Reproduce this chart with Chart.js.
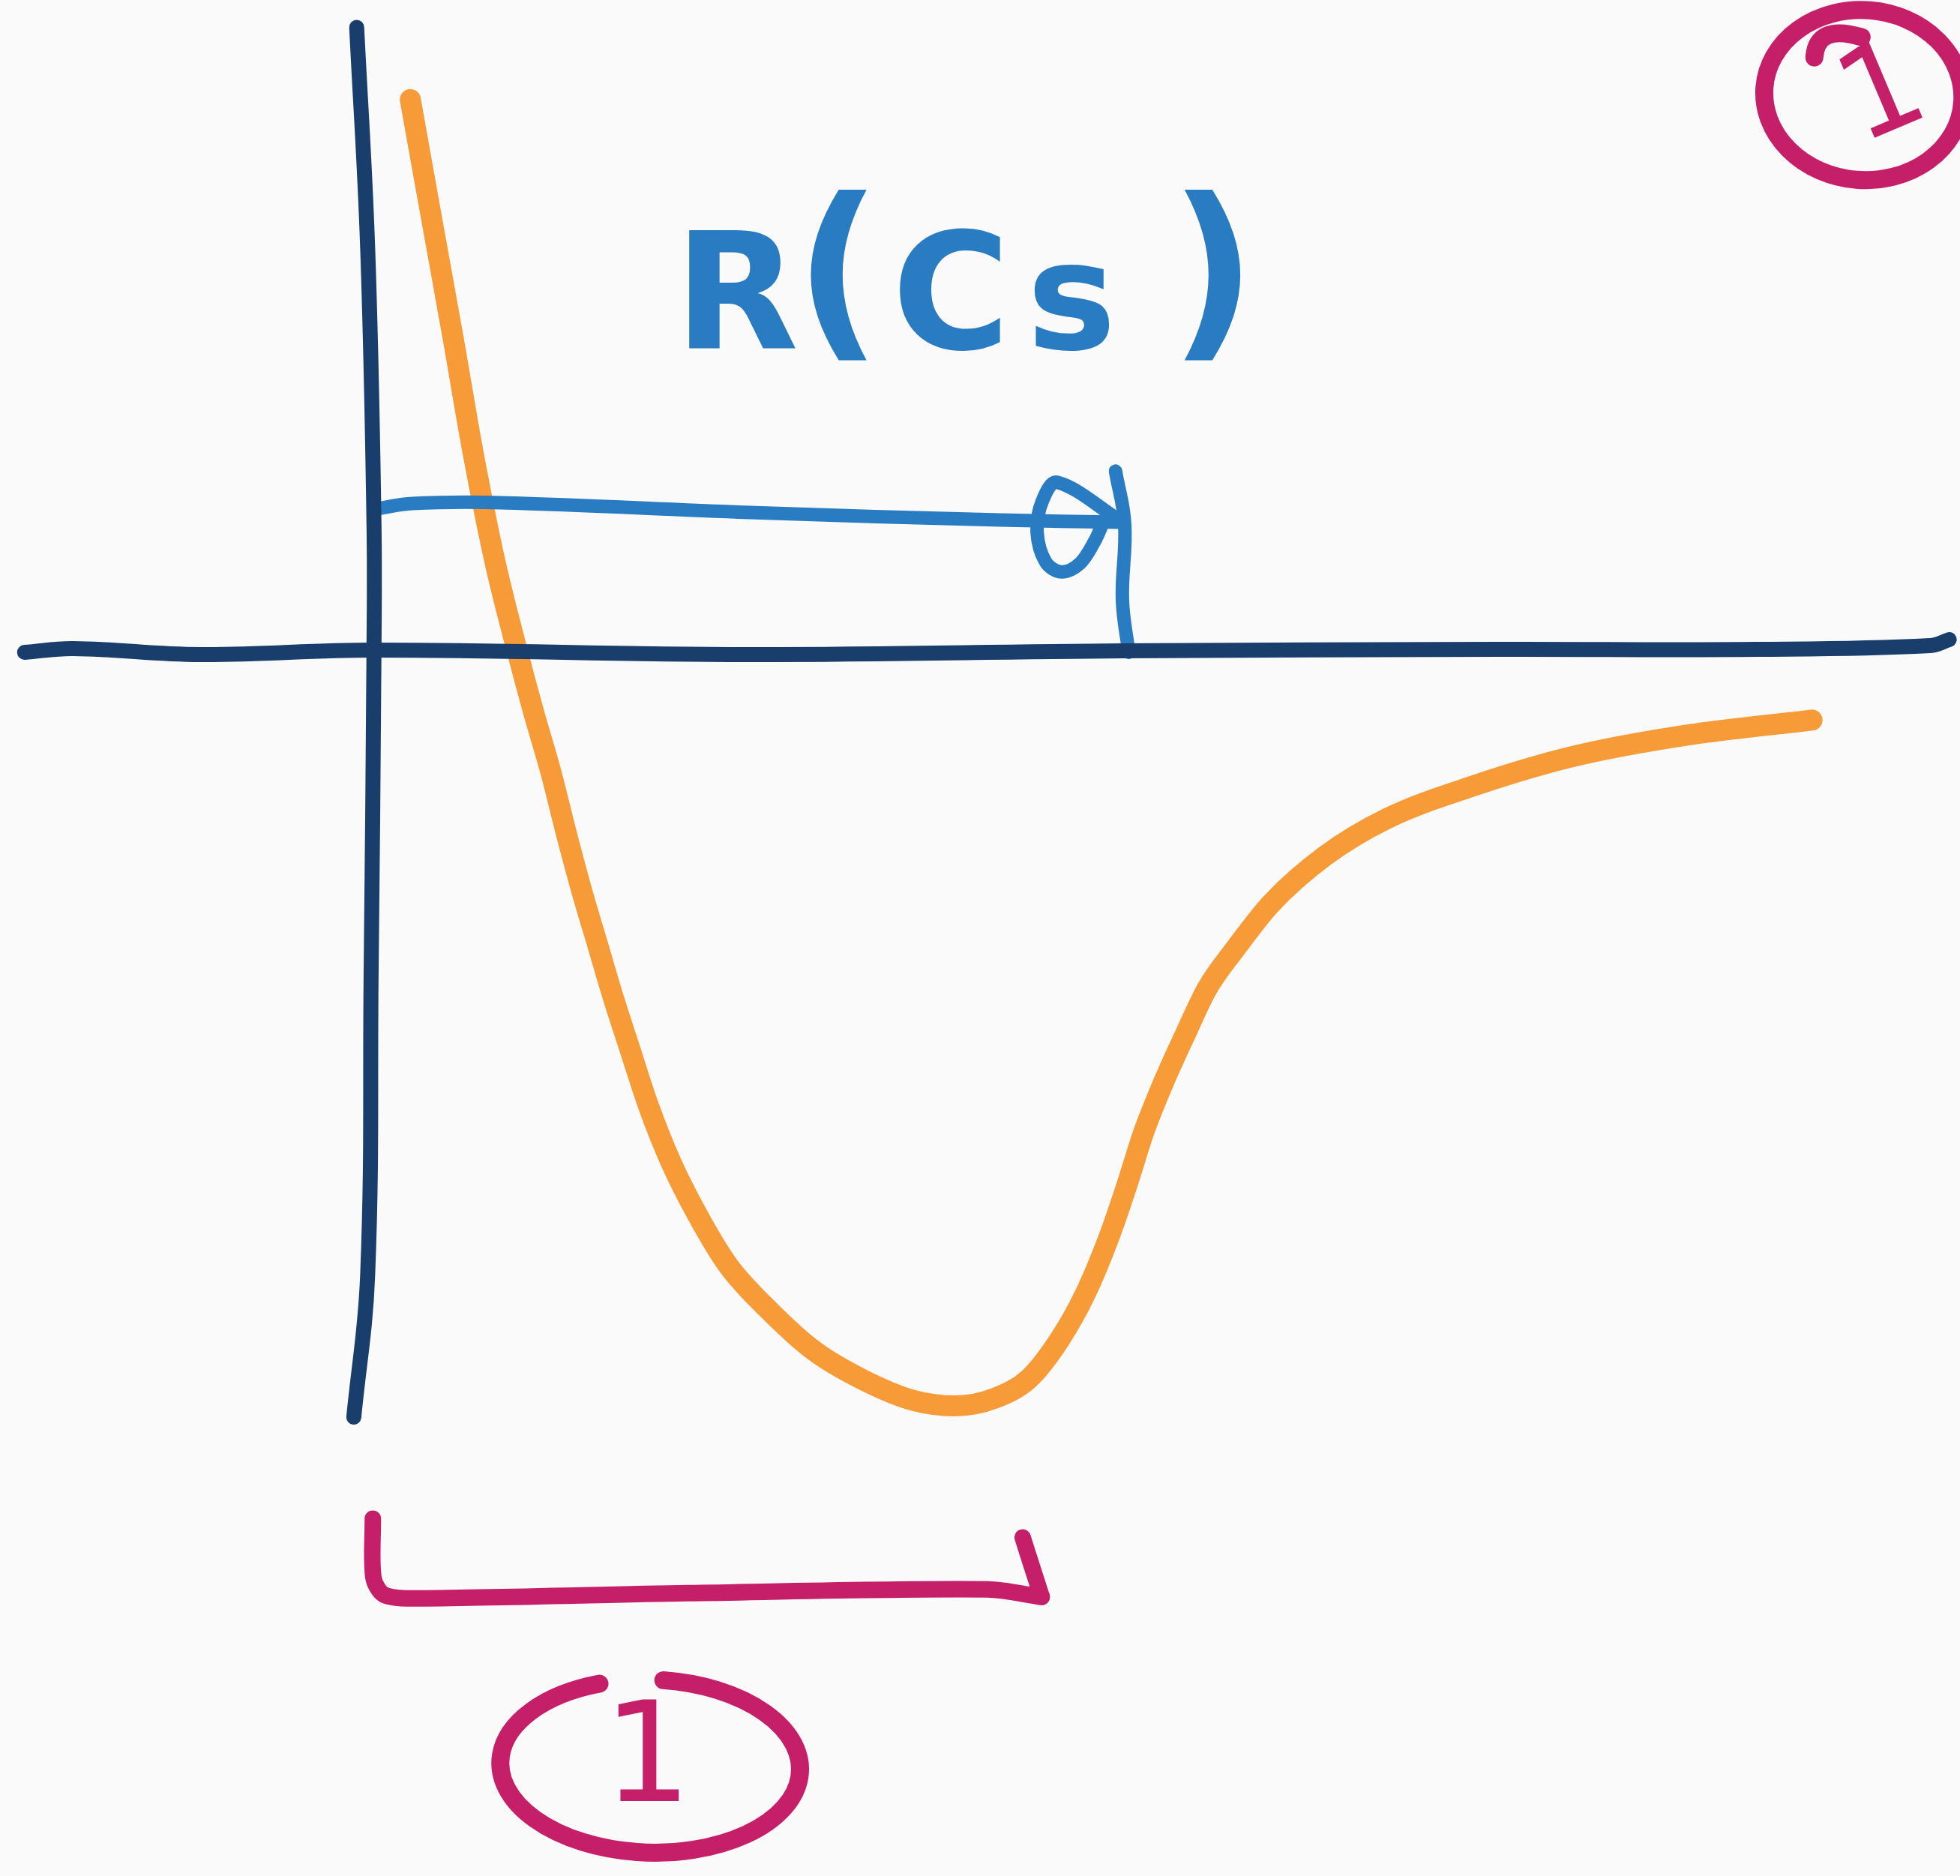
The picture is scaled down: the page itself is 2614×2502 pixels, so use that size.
<!DOCTYPE html>
<html>
<head>
<meta charset="utf-8">
<title>R(Cs)</title>
<script src="https://cdn.jsdelivr.net/npm/chart.js@4/dist/chart.umd.min.js"></script>
<style>
  html, body { margin: 0; padding: 0; background: #fafafa; }
  canvas { display: block; }
</style>
</head>
<body>
<canvas id="sketch" width="2614" height="2502"></canvas>
<script>
// r in units of the equilibrium distance, E in units of the well depth
var curveR = [0.064, 0.103, 0.138, 0.172, 0.211, 0.250, 0.278, 0.308, 0.334, 0.362, 0.389, 0.416, 0.445, 0.477, 0.516, 0.562, 0.615, 0.685, 0.763, 0.851, 0.938, 1.008, 1.077, 1.138, 1.190, 1.234, 1.277, 1.307, 1.336, 1.368, 1.408, 1.446, 1.495, 1.557, 1.650, 1.758, 1.910, 2.083, 2.278, 2.495];
var curveE = [0.734, 0.567, 0.418, 0.268, 0.119, -0.001, -0.081, -0.161, -0.240, -0.320, -0.390, -0.460, -0.529, -0.604, -0.679, -0.749, -0.816, -0.875, -0.929, -0.969, -0.996, -1.003, -0.993, -0.966, -0.915, -0.855, -0.776, -0.709, -0.639, -0.577, -0.509, -0.448, -0.395, -0.335, -0.272, -0.222, -0.178, -0.139, -0.111, -0.091];

// hand drawn axes
var xAxisR = [-0.605, -0.520, -0.300, 0.000, 0.650, 1.300, 1.950, 2.400, 2.700, 2.733];
var xAxisE = [-0.001, 0.004, -0.004, 0.002, -0.004, 0.001, 0.003, 0.003, 0.008, 0.016];
var yAxisR = [-0.029, -0.010, 0.001, 0.001, -0.004, -0.010, -0.034];
var yAxisE = [0.830, 0.537, 0.169, 0.003, -0.430, -0.829, -1.018];

// arrow from the origin out to R
var arrowR = [0.007, 0.068, 0.220, 0.653, 1.087, 1.299];
var arrowE = [0.190, 0.197, 0.198, 0.185, 0.175, 0.172];
var headR = [1.299, 1.186, 1.160, 1.151, 1.166, 1.193, 1.225, 1.251, 1.264];
var headE = [0.172, 0.225, 0.200, 0.159, 0.119, 0.106, 0.117, 0.147, 0.169];
var tickR = [1.287, 1.303, 1.299, 1.310];
var tickE = [0.240, 0.169, 0.069, -0.001];

// bracket under the well
var bracketR = [-0.001, 0.000, 0.018, 0.068, 0.545, 1.065, 1.159];
var bracketE = [-1.153, -1.231, -1.254, -1.259, -1.252, -1.247, -1.257];
var bracketEndR = [1.159, 1.143, 1.126];
var bracketEndE = [-1.257, -1.219, -1.178];

var titleText = "R(Cs)";
var stepLabels = ["1", "1"];

var navy = "#1a3e6c";
var orange = "#f69b37";
var blue = "#2a7cc2";
var magenta = "#c61f69";

function points(xs, ys) {
  return xs.map(function (x, i) {
    return { x: x, y: ys[i] };
  });
}

function stroke(xs, ys, color, width, tension) {
  return {
    data: points(xs, ys),
    borderColor: color,
    borderWidth: width,
    borderCapStyle: "round",
    borderJoinStyle: "round",
    pointRadius: 0,
    fill: false,
    tension: tension,
  };
}

// circled step numbers and the R(Cs) label
var notes = {
  id: "notes",
  afterDatasetsDraw: function (chart) {
    var ctx = chart.ctx;
    var sx = chart.scales.x;
    var sy = chart.scales.y;

    function ring(cx, cy, rx, ry, rot, a0, a1) {
      var px = sx.getPixelForValue(cx);
      var py = sy.getPixelForValue(cy);
      var prx = Math.abs(sx.getPixelForValue(cx + rx) - px);
      var pry = Math.abs(sy.getPixelForValue(cy + ry) - py);
      ctx.beginPath();
      ctx.ellipse(px, py, prx, pry, rot, a0, a1);
      ctx.stroke();
    }

    // title, set glyph by glyph like the handwriting
    var glyphs = [
      { dx: 0, size: 215, lift: 0 },
      { dx: 160, size: 255, lift: 18 },
      { dx: 290, size: 215, lift: 0 },
      { dx: 470, size: 200, lift: 0 },
      { dx: 660, size: 255, lift: 18 },
    ];
    var tx = sx.getPixelForValue(0.522);
    var ty = sy.getPixelForValue(0.403);
    ctx.save();
    ctx.fillStyle = blue;
    ctx.textAlign = "left";
    ctx.textBaseline = "alphabetic";
    titleText.split("").forEach(function (ch, i) {
      var g = glyphs[i];
      ctx.font = "bold " + g.size + "px 'DejaVu Sans'";
      ctx.fillText(ch, tx + g.dx, ty - g.lift);
    });
    ctx.restore();

    ctx.save();
    ctx.strokeStyle = magenta;
    ctx.fillStyle = magenta;
    ctx.lineWidth = 24;
    ctx.lineCap = "round";
    ctx.lineJoin = "round";
    ring(0.48, -1.482, 0.26, 0.115, 0.03, -1.5, 4.35);
    ring(2.584, 0.74, 0.172, 0.113, 0.08, 0, Math.PI * 2);

    // pen hook where the top ring was started
    ctx.beginPath();
    ctx.moveTo(sx.getPixelForValue(2.499), sy.getPixelForValue(0.79));
    ctx.quadraticCurveTo(sx.getPixelForValue(2.503), sy.getPixelForValue(0.835), sx.getPixelForValue(2.581), sy.getPixelForValue(0.817));
    ctx.stroke();

    ctx.font = "185px 'DejaVu Sans'";
    ctx.textAlign = "center";
    ctx.textBaseline = "middle";
    ctx.fillText(stepLabels[0], sx.getPixelForValue(0.475), sy.getPixelForValue(-1.48));

    ctx.font = "165px 'DejaVu Sans'";
    ctx.translate(sx.getPixelForValue(2.62), sy.getPixelForValue(0.735));
    ctx.rotate(-0.4);
    ctx.fillText(stepLabels[1], 0, 0);
    ctx.restore();
  },
};

var ctx = document.getElementById("sketch").getContext("2d");

var sketchChart = new Chart(ctx, {
  type: "line",
  data: {
    datasets: [
      stroke(xAxisR, xAxisE, navy, 20, 0.4),
      stroke(yAxisR, yAxisE, navy, 20, 0.4),
      stroke(arrowR, arrowE, blue, 18, 0.4),
      stroke(headR, headE, blue, 18, 0.35),
      stroke(tickR, tickE, blue, 18, 0.4),
      Object.assign(stroke(curveR, curveE, orange, 28, 0), { cubicInterpolationMode: "monotone" }),
      stroke(bracketR, bracketE, magenta, 22, 0.3),
      stroke(bracketEndR, bracketEndE, magenta, 22, 0.3),
    ],
  },
  options: {
    responsive: false,
    animation: false,
    events: [],
    layout: { padding: 0 },
    plugins: {
      legend: { display: false },
      tooltip: { enabled: false },
    },
    scales: {
      x: { type: "linear", min: -0.6476, max: 2.7516, display: false },
      y: { type: "linear", min: -1.6281, max: 0.8664, display: false },
    },
  },
  plugins: [notes],
});
</script>
</body>
</html>
